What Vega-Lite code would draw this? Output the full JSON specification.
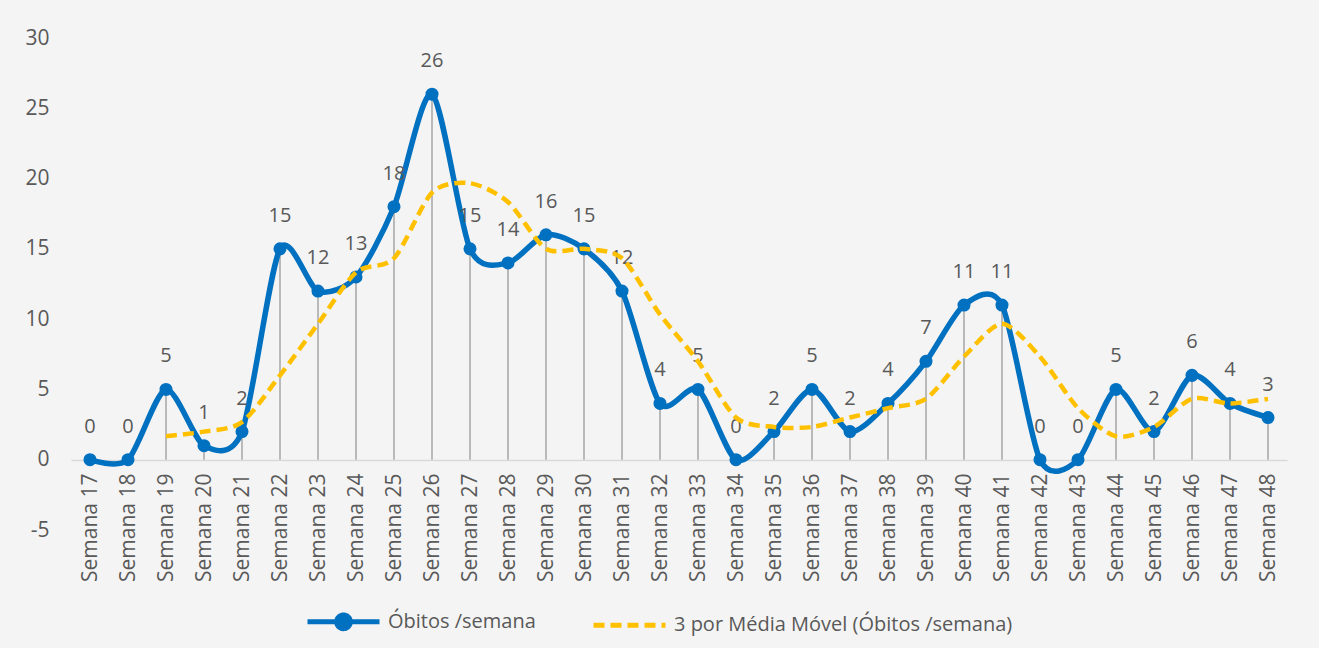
{
  "$schema": "https://vega.github.io/schema/vega-lite/v6.json",
  "width": 1216,
  "height": 492,
  "autosize": {"type": "none"},
  "padding": {"left": 71, "top": 38, "right": 32, "bottom": 118},
  "background": "#f4f4f4",
  "config": {
    "view": {"stroke": null},
    "font": "Open Sans",
    "axis": {"labelFont": "Open Sans", "labelColor": "#595959", "labelFontSize": 21, "grid": false, "ticks": false, "title": null}
  },
  "datasets": {
    "obitos": [
      {"semana": "Semana 17", "obitos": 0},
      {"semana": "Semana 18", "obitos": 0},
      {"semana": "Semana 19", "obitos": 5},
      {"semana": "Semana 20", "obitos": 1},
      {"semana": "Semana 21", "obitos": 2},
      {"semana": "Semana 22", "obitos": 15},
      {"semana": "Semana 23", "obitos": 12},
      {"semana": "Semana 24", "obitos": 13},
      {"semana": "Semana 25", "obitos": 18},
      {"semana": "Semana 26", "obitos": 26},
      {"semana": "Semana 27", "obitos": 15},
      {"semana": "Semana 28", "obitos": 14},
      {"semana": "Semana 29", "obitos": 16},
      {"semana": "Semana 30", "obitos": 15},
      {"semana": "Semana 31", "obitos": 12},
      {"semana": "Semana 32", "obitos": 4},
      {"semana": "Semana 33", "obitos": 5},
      {"semana": "Semana 34", "obitos": 0},
      {"semana": "Semana 35", "obitos": 2},
      {"semana": "Semana 36", "obitos": 5},
      {"semana": "Semana 37", "obitos": 2},
      {"semana": "Semana 38", "obitos": 4},
      {"semana": "Semana 39", "obitos": 7},
      {"semana": "Semana 40", "obitos": 11},
      {"semana": "Semana 41", "obitos": 11},
      {"semana": "Semana 42", "obitos": 0},
      {"semana": "Semana 43", "obitos": 0},
      {"semana": "Semana 44", "obitos": 5},
      {"semana": "Semana 45", "obitos": 2},
      {"semana": "Semana 46", "obitos": 6},
      {"semana": "Semana 47", "obitos": 4},
      {"semana": "Semana 48", "obitos": 3}
    ],
    "media": [
      {"semana": "Semana 19", "media": 1.67},
      {"semana": "Semana 20", "media": 2},
      {"semana": "Semana 21", "media": 2.67},
      {"semana": "Semana 22", "media": 6},
      {"semana": "Semana 23", "media": 9.67},
      {"semana": "Semana 24", "media": 13.33},
      {"semana": "Semana 25", "media": 14.33},
      {"semana": "Semana 26", "media": 19},
      {"semana": "Semana 27", "media": 19.67},
      {"semana": "Semana 28", "media": 18.33},
      {"semana": "Semana 29", "media": 15},
      {"semana": "Semana 30", "media": 15},
      {"semana": "Semana 31", "media": 14.33},
      {"semana": "Semana 32", "media": 10.33},
      {"semana": "Semana 33", "media": 7},
      {"semana": "Semana 34", "media": 3},
      {"semana": "Semana 35", "media": 2.33},
      {"semana": "Semana 36", "media": 2.33},
      {"semana": "Semana 37", "media": 3},
      {"semana": "Semana 38", "media": 3.67},
      {"semana": "Semana 39", "media": 4.33},
      {"semana": "Semana 40", "media": 7.33},
      {"semana": "Semana 41", "media": 9.67},
      {"semana": "Semana 42", "media": 7.33},
      {"semana": "Semana 43", "media": 3.67},
      {"semana": "Semana 44", "media": 1.67},
      {"semana": "Semana 45", "media": 2.33},
      {"semana": "Semana 46", "media": 4.33},
      {"semana": "Semana 47", "media": 4},
      {"semana": "Semana 48", "media": 4.33}
    ]
  },
  "encoding": {
    "x": {
      "field": "semana",
      "type": "nominal",
      "scale": {
        "type": "point",
        "padding": 0.5,
        "domain": ["Semana 17","Semana 18","Semana 19","Semana 20","Semana 21","Semana 22","Semana 23","Semana 24","Semana 25","Semana 26","Semana 27","Semana 28","Semana 29","Semana 30","Semana 31","Semana 32","Semana 33","Semana 34","Semana 35","Semana 36","Semana 37","Semana 38","Semana 39","Semana 40","Semana 41","Semana 42","Semana 43","Semana 44","Semana 45","Semana 46","Semana 47","Semana 48"]
      },
      "axis": {"labelAngle": -90, "offset": -70, "labelPadding": 13, "domainColor": "#d9d9d9", "domainWidth": 1.5}
    }
  },
  "layer": [
    {
      "data": {"name": "obitos"},
      "mark": {"type": "rule", "color": "#a6a6a6", "strokeWidth": 1.5},
      "encoding": {
        "y": {"field": "obitos", "type": "quantitative", "scale": {"domain": [-5, 30], "nice": false}, "axis": {"values": [-5, 0, 5, 10, 15, 20, 25, 30], "labelExpr": "'' + datum.value", "domain": false, "labelPadding": 22}},
        "y2": {"datum": 0}
      }
    },
    {
      "data": {"name": "obitos"},
      "mark": {"type": "line", "strokeWidth": 5.5, "interpolate": "cardinal", "tension": 0.2},
      "encoding": {
        "y": {"field": "obitos", "type": "quantitative"},
        "color": {
          "datum": "Óbitos /semana",
          "scale": {"domain": ["Óbitos /semana", "3 por Média Móvel (Óbitos /semana)"], "range": ["#0070C0", "#FFC000"]},
          "legend": {
            "title": null,
            "orient": "none",
            "legendX": 234,
            "legendY": 545,
            "direction": "horizontal",
            "padding": 0,
            "symbolSize": 5184,
            "symbolStrokeWidth": 5,
            "labelFont": "Open Sans",
            "labelFontSize": 20,
            "labelColor": "#595959",
            "labelLimit": 600,
            "labelOffset": 6,
            "columnPadding": 47,
            "encode": {
              "symbols": {
                "update": {
                  "shape": {"signal": "datum.value === 'Óbitos /semana' ? 'M-1,0H1M0.19,0A0.19,0.19,0,1,1,-0.19,0A0.19,0.19,0,1,1,0.19,0Z' : 'M-1,0H1'"},
                  "fill": {"signal": "datum.value === 'Óbitos /semana' ? '#0070C0' : 'transparent'"},
                  "strokeDash": {"signal": "datum.value === 'Óbitos /semana' ? [1,0] : [11,6]"}
                }
              }
            }
          }
        }
      }
    },
    {
      "data": {"name": "obitos"},
      "mark": {"type": "point", "filled": true, "size": 170, "color": "#0070C0", "opacity": 1},
      "encoding": {"y": {"field": "obitos", "type": "quantitative"}}
    },
    {
      "data": {"name": "obitos"},
      "mark": {"type": "text", "dy": -33, "fontSize": 20, "font": "Open Sans", "color": "#595959", "baseline": "middle"},
      "encoding": {"y": {"field": "obitos", "type": "quantitative"}, "text": {"field": "obitos", "type": "quantitative"}}
    },
    {
      "data": {"name": "media"},
      "mark": {"type": "line", "strokeWidth": 4.5, "strokeDash": [11, 6], "interpolate": "cardinal", "tension": 0.2},
      "encoding": {
        "y": {"field": "media", "type": "quantitative"},
        "color": {"datum": "3 por Média Móvel (Óbitos /semana)"}
      }
    }
  ]
}
